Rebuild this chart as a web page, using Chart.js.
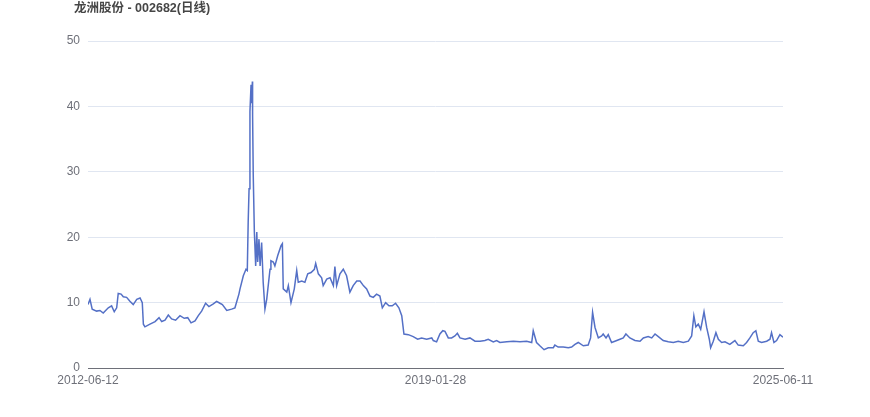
<!DOCTYPE html>
<html>
<head>
<meta charset="utf-8">
<title>龙洲股份 - 002682(日线)</title>
<script src="https://cdn.jsdelivr.net/npm/chart.js@4.4.1/dist/chart.umd.min.js"></script>
<style>
  html, body { margin: 0; padding: 0; background: #fff; }
  #wrap { width: 870px; height: 417px; position: relative; }
</style>
</head>
<body>
<div id="wrap"><canvas id="kline"></canvas></div>
<script>
// trading-day index (0 = 2012-06-12) and close price
const dayIndex = [
  0, 9, 19, 39, 54, 69, 92, 107, 119, 130, 137, 150, 160, 175, 190, 205, 221, 236, 246, 251,
  258, 281, 304, 322, 334, 349, 364, 379, 397, 417, 436, 452, 467, 485, 500, 515, 533, 548, 568, 583,
  598, 609, 629, 651, 666, 684, 689, 704, 716, 722, 726, 730, 734, 739, 742, 745, 746, 749, 754, 760, 765,
  769, 775, 780, 787, 794, 802, 810, 825, 829, 840, 847, 860, 875, 881, 885, 901, 908, 920, 935, 946,
  953, 969, 983, 996, 1011, 1026, 1032, 1044, 1059, 1066, 1082, 1097, 1112, 1119, 1127, 1142, 1157, 1172, 1187, 1202,
  1218, 1233, 1248, 1263, 1278, 1293, 1308, 1323, 1334, 1349, 1364, 1379, 1394, 1409, 1422, 1432, 1452, 1474, 1494, 1512,
  1535, 1558, 1565, 1580, 1595, 1608, 1618, 1633, 1648, 1663, 1674, 1686, 1709, 1731, 1754, 1777, 1799, 1814, 1837, 1852,
  1867, 1898, 1928, 1958, 1988, 2011, 2018, 2033, 2048, 2067, 2086, 2109, 2116, 2131, 2154, 2177, 2192, 2207, 2222, 2245,
  2267, 2278, 2287, 2298, 2313, 2328, 2335, 2348, 2358, 2373, 2388, 2411, 2426, 2438, 2456, 2479, 2502, 2517, 2539, 2555,
  2570, 2585, 2607, 2630, 2653, 2675, 2698, 2721, 2736, 2746, 2755, 2766, 2777, 2792, 2804, 2816, 2822, 2834, 2846, 2857,
  2872, 2887, 2909, 2932, 2947, 2970, 2985, 3000, 3015, 3027, 3038, 3053, 3076, 3091, 3098, 3109, 3121, 3136, 3150
];
const closePrice = [
  9.7, 10.5, 9.0, 8.7, 8.8, 8.4, 9.2, 9.5, 8.6, 9.2, 11.4, 11.3, 10.9, 10.8, 10.2, 9.7, 10.5, 10.7, 10.0, 6.7,
  6.3, 6.7, 7.1, 7.7, 7.1, 7.3, 8.1, 7.5, 7.3, 8.0, 7.6, 7.7, 6.9, 7.2, 8.0, 8.7, 9.9, 9.4, 9.8, 10.2,
  9.9, 9.7, 8.8, 9.0, 9.2, 11.3, 12.1, 14.1, 15.1, 14.9, 22.3, 27.4, 39.2, 43.3, 40.5, 43.8, 38.7, 29.4, 20.8, 15.6, 20.8,
  16.2, 19.7, 15.6, 19.2, 13.1, 9.0, 10.5, 15.1, 16.4, 16.2, 15.6, 17.2, 18.7, 19.0, 12.1, 11.6, 12.6, 10.0, 12.1, 14.9,
  13.1, 13.3, 13.1, 14.4, 14.6, 15.1, 16.0, 14.4, 13.8, 12.6, 13.6, 13.8, 12.6, 15.5, 12.6, 14.4, 15.1, 14.1, 11.6, 12.6,
  13.3, 13.3, 12.6, 12.1, 11.0, 10.8, 11.3, 11.0, 9.2, 10.0, 9.5, 9.5, 9.9, 9.2, 8.0, 5.2, 5.1, 4.8, 4.4, 4.6,
  4.4, 4.6, 4.2, 4.0, 5.2, 5.7, 5.6, 4.6, 4.6, 4.9, 5.3, 4.6, 4.4, 4.6, 4.1, 4.1, 4.2, 4.4, 4.0, 4.2,
  3.9, 4.0, 4.1, 4.0, 4.1, 3.9, 5.7, 3.9, 3.4, 2.8, 3.1, 3.1, 3.5, 3.2, 3.2, 3.1, 3.2, 3.6, 3.9, 3.4,
  3.5, 4.6, 8.5, 6.2, 4.6, 4.9, 5.2, 4.6, 5.1, 3.9, 4.1, 4.4, 4.6, 5.2, 4.6, 4.2, 4.1, 4.6, 4.8, 4.6,
  5.2, 4.8, 4.2, 4.0, 3.9, 4.1, 3.9, 4.1, 4.9, 8.0, 6.3, 6.7, 5.9, 8.6, 6.2, 4.4, 3.1, 4.1, 5.4, 4.4,
  3.9, 4.0, 3.6, 4.2, 3.5, 3.4, 3.9, 4.6, 5.4, 5.7, 4.1, 3.9, 4.1, 4.4, 5.4, 3.9, 4.2, 5.1, 4.7
];
// category labels shown on the x axis (first, middle, last trading day)
const tickDays = [0, 1575, 3150];
const tickLabels = ['2012-06-12', '2019-01-28', '2025-06-11'];
const yTicks = [0, 10, 20, 30, 40, 50];

const chartTitle = '龙洲股份 - 002682(日线)';

// title drawn top-left like the original
const titlePlugin = {
  id: 'topLeftTitle',
  afterDraw(chart) {
    const ctx = chart.ctx;
    ctx.save();
    ctx.font = 'bold 12.5px "Liberation Sans", "Noto Sans CJK SC", sans-serif';
    ctx.fillStyle = '#464646';
    ctx.textAlign = 'left';
    ctx.textBaseline = 'middle';
    ctx.fillText(chartTitle, 74, 9);
    ctx.restore();
  }
};

const points = dayIndex.map((d, i) => ({ x: d, y: closePrice[i] }));

new Chart(document.getElementById('kline'), {
  type: 'line',
  data: {
    datasets: [{
      label: chartTitle,
      data: points,
      borderColor: '#5470c6',
      borderWidth: 1.5,
      pointRadius: 0,
      tension: 0,
      fill: false
    }]
  },
  options: {
    responsive: true,
    maintainAspectRatio: false,
    animation: false,
    layout: { padding: { left: 60, right: 87, top: 41, bottom: 0 } },
    plugins: {
      legend: { display: false },
      tooltip: { enabled: false }
    },
    scales: {
      x: {
        type: 'linear',
        min: tickDays[0],
        max: tickDays[tickDays.length - 1],
        afterBuildTicks: (scale) => { scale.ticks = tickDays.map(v => ({ value: v })); },
        afterFit: (scale) => { scale.height = 49; },
        grid: { display: false, drawTicks: false },
        border: { display: true, color: '#6e7079', width: 1 },
        ticks: {
          padding: 5,
          maxRotation: 0,
          autoSkip: false,
          color: '#6e7079',
          font: { size: 12, family: '"Liberation Sans", Arial, sans-serif' },
          callback: (val) => tickLabels[tickDays.indexOf(val)]
        }
      },
      y: {
        min: 0,
        max: 50,
        afterBuildTicks: (scale) => { scale.ticks = yTicks.map(v => ({ value: v })); },
        afterFit: (scale) => { scale.width = 28; },
        grid: { color: '#e0e6f1', drawTicks: false },
        border: { display: false },
        ticks: {
          padding: 8,
          color: '#6e7079',
          font: { size: 12, family: '"Liberation Sans", Arial, sans-serif' }
        }
      }
    }
  },
  plugins: [titlePlugin]
});
</script>
</body>
</html>
